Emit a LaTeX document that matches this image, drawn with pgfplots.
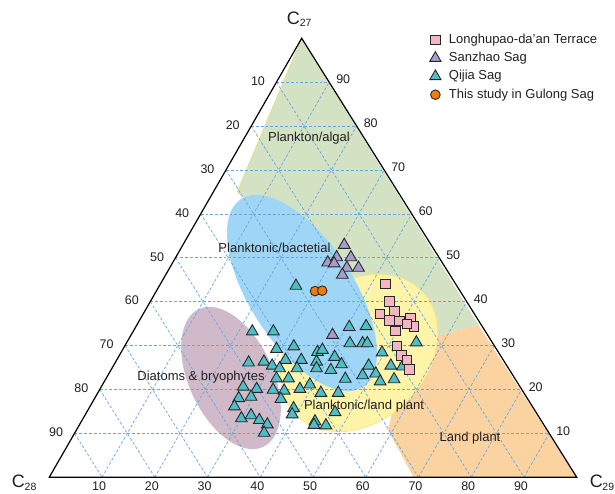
\documentclass[border=0pt]{standalone}
\usepackage{fontspec}
\setmainfont{Liberation Sans}
\usepackage{pgfplots}
\pgfplotsset{compat=1.18}
\usepackage{pgfplotstable}

\definecolor{txt}{RGB}{35,31,32}
\definecolor{algal}{RGB}{212,226,196}
\definecolor{algaledge}{RGB}{222,224,140}
\definecolor{landplant}{RGB}{250,211,160}
\definecolor{bact}{RGB}{160,214,245}
\definecolor{diatom}{RGB}{208,186,201}
\definecolor{mixfill}{RGB}{255,244,168}
\definecolor{mixedge}{RGB}{250,234,125}
\definecolor{gridblue}{RGB}{100,165,230}
\definecolor{qijia}{RGB}{80,190,198}
\definecolor{sanzhao}{RGB}{168,155,205}
\definecolor{longhu}{RGB}{245,182,193}
\definecolor{gulong}{RGB}{240,125,10}
\definecolor{markedge}{RGB}{40,40,40}

\tikzset{gridline/.style={gridblue, line width=0.7pt, dash pattern=on 2.8pt off 2pt}}

% Ternary compositions in percent (C27, C28, C29)
\pgfplotstableread{
C27 C28 C29
44.0 13.3 42.7
40.0 14.6 45.4
37.2 17.9 44.9
37.7 14.9 47.4
35.7 16.9 47.4
35.6 15.1 49.3
36.2 12.7 51.1
34.4 12.9 52.7
34.9 14.0 51.1
33.3 17.0 49.7
29.9 18.5 51.6
27.8 18.7 53.5
26.7 18.3 55.0
24.6 18.9 56.5
}\longhupao

\pgfplotstableread{
C27 C28 C29
52.9 16.5 30.6
50.1 19.4 30.5
50.1 16.7 33.2
48.9 21.7 29.4
48.7 20.6 30.7
47.7 18.7 33.6
47.7 16.5 35.8
46.1 20.4 33.5
32.4 29.4 38.2
}\sanzhaosag

\pgfplotstableread{
C27 C28 C29
43.6 30.5 25.9
33.2 44.2 22.6
33.2 40.2 26.6
34.2 25.3 40.5
34.4 22.0 43.6
30.5 27.1 42.4
30.5 24.7 44.8
30.5 23.8 45.7
30.7 14.4 54.9
29.2 41.7 29.1
29.8 38.1 32.1
28.5 34.3 37.2
29.0 33.1 37.9
28.4 22.1 49.5
26.1 48.6 25.3
26.3 45.6 28.1
25.4 44.5 30.1
26.7 41.3 32.0
26.7 38.3 35.0
26.3 35.6 38.1
27.4 31.6 41.0
25.7 31.2 43.1
24.8 36.4 38.8
24.4 33.9 41.7
24.8 40.1 35.1
24.8 43.4 31.8
25.4 26.2 48.4
25.4 22.0 52.6
25.2 19.9 54.9
23.2 28.5 48.3
23.6 25.8 50.6
21.8 25.9 52.3
22.3 23.0 54.7
22.4 32.2 45.4
22.5 45.2 32.3
22.5 42.9 34.6
20.6 52.5 26.9
20.1 50.2 29.7
19.9 47.2 32.9
19.7 45.2 35.1
20.1 42.0 37.9
21.1 39.6 39.3
19.2 38.5 42.3
19.2 35.2 45.6
18.0 54.7 27.3
18.3 52.2 29.5
17.8 46.8 35.4
16.1 56.5 27.4
15.7 45.5 38.8
14.3 46.5 39.2
14.8 38.1 47.1
13.4 56.6 30.0
14.1 54.4 31.5
13.0 53.4 33.6
12.0 52.4 35.6
10.1 54.0 35.9
12.7 43.0 44.3
11.9 43.6 44.5
11.8 41.4 46.8
}\qijiasag

\pgfplotstableread{
C27 C28 C29
42.4 27.5 30.1
42.5 26.1 31.4
}\gulongsag

\begin{document}
\begin{tikzpicture}
\begin{axis}[
  anchor=origin, at={(0pt,0pt)},
  x=1pt, y=1pt, xmin=0, xmax=615, ymin=0, ymax=494,
  disabledatascaling,
  hide axis, clip=false,
  legend style={at={(0.6959,0.9332)}, anchor=north west, draw=none, fill=none,
    inner sep=0pt, row sep=5pt, column sep=5.8pt,
    font=\fontsize{13}{15}\selectfont,
    nodes={inner sep=0.5pt, text height=9.5pt, text depth=2.8pt, text=txt}},
  legend cell align=left,
  legmark/.style={only marks,
    legend image code/.code={\path (0pt,0pt) (14pt,0pt); \draw plot coordinates {(7pt,0pt)};}},
  tri/.style={only marks, mark=triangle*, mark size=6.8pt},
]
% source fields
\fill[algal] (301.7,455.7) -- (237.3,302.3) -- (262,284) -- (380,194) -- (433,157.3) -- (478.4,169) -- cycle;
\draw[algaledge, line width=0.8pt] (301.7,455.7) -- (237.3,302.3) -- (246,294);
\fill[landplant] (478.4,169) -- (576.7,16.8) -- (413.7,16.8) -- (388,64) -- (400,114) -- (433.3,157.3) -- cycle;
\filldraw[fill=mixfill, draw=mixedge, line width=0.8pt, rotate around={45:(359,141)}] (359,141) ellipse [x radius=88pt, y radius=68pt];
\fill[diatom, rotate around={-65:(231,116)}] (231,116) ellipse [x radius=76pt, y radius=42pt];
\fill[bact, rotate around={-57:(302,201)}] (302,201) ellipse [x radius=112pt, y radius=52pt];

% dashed ternary grid and tick labels
\pgfplotsinvokeforeach{10,20,30,40,50,60,70,80,90}{
  \draw[gridline]
    ({49.3+2.524*#1},{16.8+4.389*#1}) -- ({576.7-2.75*#1},{16.8+4.389*#1});
  \draw[gridline]
    ({49.3+2.524*(100-#1)},{16.8+4.389*(100-#1)}) -- ({49.3+5.274*(100-#1)},16.8);
  \draw[gridline]
    ({49.3+5.274*#1},16.8) -- ({49.3+5.274*#1+2.524*(100-#1)},{16.8+4.389*(100-#1)});
  \node[txt, inner sep=0pt, font=\fontsize{12.5}{14}\selectfont]
    at ({576.7-2.75*#1+14},{16.8+4.389*#1+2.5}) {#1};
  \node[txt, inner sep=0pt, font=\fontsize{12.5}{14}\selectfont]
    at ({49.3+5.274*0+2.524*(100-#1)-18.5},{16.8+4.389*(100-#1)+1}) {#1};
  \node[txt, inner sep=0pt, anchor=base, font=\fontsize{12.5}{14}\selectfont]
    at ({49.3+5.274*#1-3},3.2) {#1};
}

% triangle frame
\draw[black, line width=1.2pt, line join=miter] (49.3,16.8) -- (301.7,455.7) -- (576.7,16.8) -- cycle;

% corner labels
\node[txt, inner sep=0pt, font=\fontsize{18}{18}\selectfont] at (293.3,475.7) {C};
\node[txt, inner sep=0pt, font=\fontsize{10.5}{11}\selectfont] at (305.7,470.7) {27};
\node[txt, inner sep=0pt, font=\fontsize{18}{18}\selectfont] at (18.3,12.3) {C};
\node[txt, inner sep=0pt, font=\fontsize{10.5}{11}\selectfont] at (30.5,7.3) {28};
\node[txt, inner sep=0pt, font=\fontsize{18}{18}\selectfont] at (596.3,13) {C};
\node[txt, inner sep=0pt, font=\fontsize{10.5}{11}\selectfont] at (608.3,6.7) {29};

% field names
\begin{scope}[every node/.style={txt, inner sep=0pt, anchor=base, font=\fontsize{13}{15}\selectfont}]
\node at (309,352.5) {Plankton/algal};
\node at (274.5,241.2) {Planktonic/bactetial};
\node at (201,113.5) {Diatoms \& bryophytes};
\node at (364,84.5) {Planktonic/land plant};
\node at (470,52.2) {Land plant};
\end{scope}

% legend entries
\addlegendimage{legmark, mark=square*, mark size=4.8pt, mark options={fill=longhu, draw=markedge, line width=0.9pt}}
\addlegendentry{Longhupao-da’an Terrace}
\addlegendimage{legmark, mark=triangle*, mark size=6.5pt, mark options={fill=sanzhao, draw=markedge, line width=0.9pt}}
\addlegendentry{Sanzhao Sag}
\addlegendimage{legmark, mark=triangle*, mark size=6.5pt, mark options={fill=qijia, draw=markedge, line width=0.9pt}}
\addlegendentry{Qijia Sag}
\addlegendimage{legmark, mark=*, mark size=4.8pt, mark options={fill=gulong, draw=markedge, line width=0.9pt}}
\addlegendentry{This study in Gulong Sag}

% samples
\addplot[tri, mark options={fill=qijia, draw=markedge, line width=0.9pt}, forget plot]
  table[x expr={49.3+5.274*\thisrow{C29}+2.524*\thisrow{C27}}, y expr={16.8+4.389*\thisrow{C27}}] {\qijiasag};
\addplot[tri, mark options={fill=sanzhao, draw=markedge, line width=0.9pt}, forget plot]
  table[x expr={49.3+5.274*\thisrow{C29}+2.524*\thisrow{C27}}, y expr={16.8+4.389*\thisrow{C27}}] {\sanzhaosag};
\addplot[only marks, mark=square*, mark size=4.8pt, mark options={fill=longhu, draw=markedge, line width=0.9pt}, forget plot]
  table[x expr={49.3+5.274*\thisrow{C29}+2.524*\thisrow{C27}}, y expr={16.8+4.389*\thisrow{C27}}] {\longhupao};
\addplot[only marks, mark=*, mark size=4.8pt, mark options={fill=gulong, draw=markedge, line width=0.9pt}, forget plot]
  table[x expr={49.3+5.274*\thisrow{C29}+2.524*\thisrow{C27}}, y expr={16.8+4.389*\thisrow{C27}}] {\gulongsag};
\end{axis}
\pgfresetboundingbox
\useasboundingbox (0pt,0pt) rectangle (615pt,494pt);
\end{tikzpicture}
\end{document}
